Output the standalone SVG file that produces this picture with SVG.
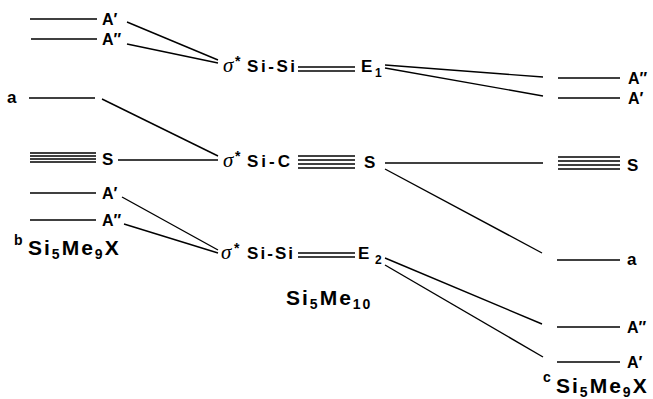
<svg xmlns="http://www.w3.org/2000/svg" width="653" height="399" viewBox="0 0 653 399">
<style>
.l{stroke:#000;stroke-width:1.4;fill:none}
.t{font-family:"Liberation Sans",Arial,sans-serif;font-weight:bold;fill:#000}
.lb{font-size:16px}
.m{font-size:17px}
.sub{font-size:12px}
.big{font-size:21px;letter-spacing:2px}
.sg{font-family:"Liberation Serif","Times New Roman",serif;font-style:italic;font-size:21px;fill:#000}
</style>
<rect width="653" height="399" fill="#fff"/>

<g id="connectors" class="l">
<line x1="127" y1="22" x2="218" y2="60"/>
<line x1="127" y1="44" x2="218" y2="63"/>
<line x1="102" y1="99" x2="218" y2="156"/>
<line x1="118" y1="160" x2="218" y2="160"/>
<line x1="122" y1="197" x2="218" y2="250"/>
<line x1="124" y1="224" x2="218" y2="253"/>
<line x1="385" y1="65" x2="543" y2="77"/>
<line x1="385" y1="68" x2="543" y2="96"/>
<line x1="385" y1="163" x2="543" y2="163"/>
<line x1="385" y1="169" x2="542" y2="253"/>
<line x1="385" y1="258" x2="542" y2="324"/>
<line x1="385" y1="265" x2="543" y2="357"/>
</g>

<!-- left column -->
<g id="L_A1"><line class="l" x1="30" y1="19" x2="97" y2="19"/><text class="t lb" x="102" y="25">A′</text></g>
<g id="L_A2"><line class="l" x1="31" y1="39" x2="97" y2="39"/><text class="t lb" x="102" y="45">A″</text></g>
<g id="L_a"><text class="t m" x="7" y="103">a</text><line class="l" x1="29" y1="98" x2="95" y2="98"/></g>
<g id="L_S"><g class="l"><line x1="30" y1="153" x2="96" y2="153"/><line x1="30" y1="156" x2="96" y2="156"/><line x1="30" y1="159" x2="96" y2="159"/><line x1="30" y1="162" x2="96" y2="162"/></g><text class="t m" x="102" y="165">S</text></g>
<g id="L_A1b"><line class="l" x1="30" y1="193" x2="96" y2="193"/><text class="t lb" x="102" y="199">A′</text></g>
<g id="L_A2b"><line class="l" x1="30" y1="220" x2="96" y2="220"/><text class="t lb" x="102" y="226">A″</text></g>
<g id="L_title"><text class="t big"><tspan x="14" y="245" font-size="14">b</tspan><tspan x="28" y="255">Si</tspan><tspan font-size="14" dy="4">5</tspan><tspan dy="-4">Me</tspan><tspan font-size="14" dy="4">9</tspan><tspan dy="-4">X</tspan></text></g>

<!-- center column -->
<g id="C_SiSi1"><text class="sg" x="223" y="72">σ</text><text class="t" font-size="14" x="235" y="66">*</text><text class="t m" x="247" y="72" textLength="48" lengthAdjust="spacing">Si-Si</text>
<g class="l"><line x1="298" y1="67" x2="355" y2="67"/><line x1="298" y1="71" x2="355" y2="71"/></g>
<text class="t m" x="361" y="72">E</text><text class="t sub" x="375" y="77">1</text></g>

<g id="C_SiC"><text class="sg" x="223" y="167">σ</text><text class="t" font-size="14" x="235" y="161">*</text><text class="t m" x="247" y="167" textLength="43" lengthAdjust="spacing">Si-C</text>
<g class="l"><line x1="298" y1="156" x2="355" y2="156"/><line x1="298" y1="160" x2="355" y2="160"/><line x1="298" y1="164" x2="355" y2="164"/><line x1="298" y1="168" x2="355" y2="168"/></g>
<text class="t m" x="364" y="168">S</text></g>

<g id="C_SiSi2"><text class="sg" x="221" y="259">σ</text><text class="t" font-size="14" x="234" y="253">*</text><text class="t m" x="247" y="259" textLength="46" lengthAdjust="spacing">Si-Si</text>
<g class="l"><line x1="298" y1="253" x2="355" y2="253"/><line x1="298" y1="257" x2="355" y2="257"/></g>
<text class="t m" x="358" y="259">E</text><text class="t sub" x="375" y="264">2</text></g>

<g id="C_title"><text class="t big"><tspan x="286" y="305">Si</tspan><tspan font-size="14" dy="4">5</tspan><tspan dy="-4">Me</tspan><tspan font-size="14" dy="4">10</tspan></text></g>

<!-- right column -->
<g id="R_A2"><line class="l" x1="558" y1="78" x2="620" y2="78"/><text class="t lb" x="628" y="84">A″</text></g>
<g id="R_A1"><line class="l" x1="558" y1="98" x2="620" y2="98"/><text class="t lb" x="628" y="104">A′</text></g>
<g id="R_S"><g class="l"><line x1="558" y1="157" x2="620" y2="157"/><line x1="558" y1="161" x2="620" y2="161"/><line x1="558" y1="165" x2="620" y2="165"/><line x1="558" y1="169" x2="620" y2="169"/></g><text class="t m" x="627" y="171">S</text></g>
<g id="R_a"><line class="l" x1="557" y1="260" x2="620" y2="260"/><text class="t m" x="627" y="265">a</text></g>
<g id="R_A2b"><line class="l" x1="557" y1="327" x2="620" y2="327"/><text class="t lb" x="627" y="333">A″</text></g>
<g id="R_A1b"><line class="l" x1="557" y1="362" x2="620" y2="362"/><text class="t lb" x="627" y="368">A′</text></g>
<g id="R_title"><text class="t big"><tspan x="543" y="382" font-size="14">c</tspan><tspan x="556" y="393">Si</tspan><tspan font-size="14" dy="4">5</tspan><tspan dy="-4">Me</tspan><tspan font-size="14" dy="4">9</tspan><tspan dy="-4">X</tspan></text></g>
</svg>
